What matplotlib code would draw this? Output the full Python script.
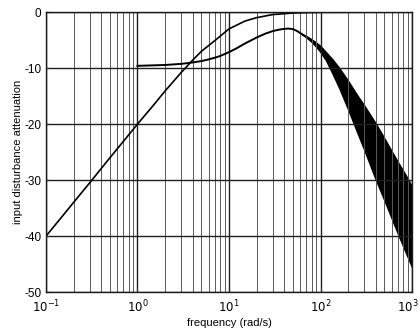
import math

import matplotlib.pyplot as plt
from matplotlib.ticker import LogLocator, FixedLocator, FuncFormatter

# values (rad/s, dB)
hp_freq = [0.1, 0.15, 0.2, 0.3, 0.5, 0.7, 1, 1.5, 2, 3, 4, 5, 7, 10, 15, 20, 30, 50, 70, 100, 1000]
hp_db = [-40, -36.5, -34, -30.5, -26, -23.1, -20, -16.6, -14.1, -10.8, -8.6, -7.0, -5.1, -3.0,
         -1.6, -1.0, -0.45, -0.17, -0.09, -0.04, 0.0]

lo_freq = [1, 2, 3, 4, 5, 6, 7, 8, 10, 12, 15, 20, 25, 30, 35, 40, 45, 50, 55, 60]
lo_db = [-9.6, -9.45, -9.25, -9.0, -8.75, -8.45, -8.15, -7.85, -7.15, -6.5, -5.6, -4.55, -3.85,
         -3.4, -3.15, -3.0, -2.95, -3.05, -3.35, -3.75]

band_freq = [60, 70, 80, 90, 100, 115, 134, 160, 200, 250, 300, 400, 500, 600, 700, 850, 1000]
band_top = [-3.75, -4.3, -4.9, -5.5, -6.1, -7.2, -8.4, -10.0, -12.3, -14.8, -16.7, -19.9,
            -22.6, -24.9, -26.8, -29.1, -31.2]
band_bot = [-3.75, -4.5, -5.3, -6.2, -7.1, -8.6, -10.8, -13.5, -17.3, -21.3, -24.5, -29.8,
            -33.6, -36.8, -39.5, -42.8, -45.5]

y_ticks = [0, -10, -20, -30, -40, -50]
x_exponents = [-1, 0, 1, 2, 3]


def _xlabel_fmt(value, _pos):
    # the 10^3 label is placed by hand so it stays inside the picture
    if value >= 999:
        return ""
    return f"$10^{{{round(math.log10(value))}}}$"


def main() -> None:
    plt.rcParams["font.family"] = ["Liberation Sans", "DejaVu Sans"]
    fig = plt.figure(figsize=(4.2, 3.35), dpi=100)
    ax = fig.add_axes([0.1095, 0.128, 0.8715, 0.836])

    ax.set_xscale("log")
    ax.set_xlim(0.1, 1000)
    ax.set_ylim(-50, 0)

    ax.xaxis.set_major_locator(FixedLocator([10.0 ** e for e in x_exponents]))
    ax.xaxis.set_major_formatter(FuncFormatter(_xlabel_fmt))
    ax.xaxis.set_minor_locator(LogLocator(base=10, subs=range(2, 10), numticks=50))
    ax.yaxis.set_major_locator(FixedLocator(y_ticks))
    ax.set_yticklabels([str(v) for v in y_ticks])

    ax.grid(True, which="major", color="0.12", linewidth=1.0)
    ax.grid(True, which="minor", axis="x", color="0.35", linewidth=0.7)

    ax.plot(hp_freq, hp_db, color="black", linewidth=1.2)
    ax.plot(lo_freq, lo_db, color="black", linewidth=1.4)
    ax.fill_between(band_freq, band_bot, band_top, color="black", linewidth=1.2,
                    edgecolor="black")

    ax.tick_params(which="both", direction="in", labelsize=8.5, length=3, color="0.2")
    ax.tick_params(which="minor", length=0)
    ax.tick_params(axis="x", pad=5)
    for spine in ax.spines.values():
        spine.set_color("0.1")
        spine.set_linewidth(1.0)

    ax.annotate(f"$10^{{{x_exponents[-1]}}}$", xy=(10.0 ** x_exponents[-1], 0),
                xycoords=("data", "axes fraction"), xytext=(-3, -5),
                textcoords="offset points", ha="center", va="top", fontsize=8.5)

    ax.set_xlabel("frequency (rad/s)", fontsize=8, labelpad=2)
    ax.set_ylabel("input disturbance attenuation", fontsize=8, labelpad=1)

    fig.savefig("out.png", dpi=100)
    plt.close(fig)


if __name__ == "__main__":
    main()
